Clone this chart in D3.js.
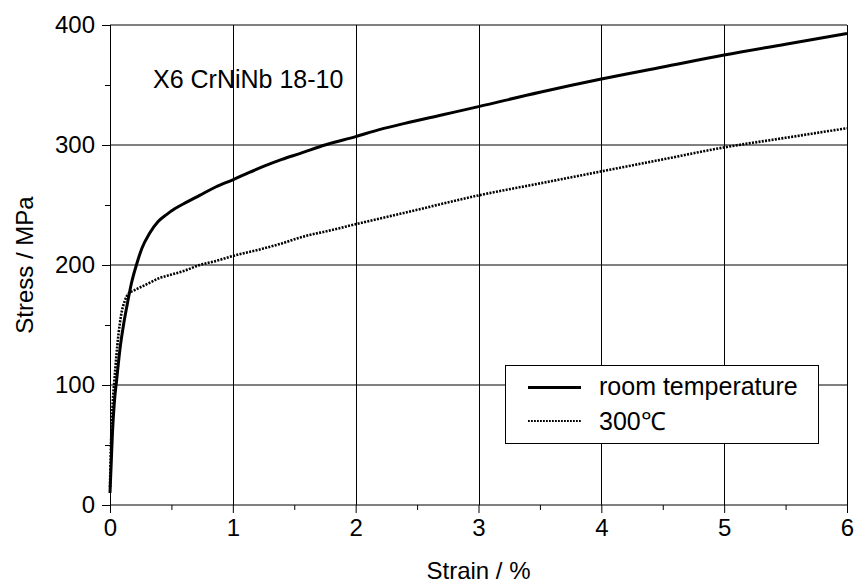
<!DOCTYPE html>
<html>
<head>
<meta charset="utf-8">
<script src="https://cdn.jsdelivr.net/npm/d3@7"></script>
<style>
  html, body { margin: 0; padding: 0; background: #fff; }
  svg { display: block; font-family: "Liberation Sans", Arial, Helvetica, sans-serif; }
</style>
</head>
<body>
<svg id="chart" width="856" height="583"></svg>
<script>
// Tensile test: X6 CrNiNb 18-10, stress vs strain
const roomStrain = [0.0, 0.01, 0.02, 0.035, 0.055, 0.08, 0.11, 0.14, 0.175, 0.215, 0.26, 0.32, 0.39, 0.46, 0.53, 0.6, 0.73, 0.86, 1.0, 1.13, 1.27, 1.4, 1.55, 1.75, 2.0, 2.2, 2.4, 2.7, 3.0, 3.5, 4.0, 4.5, 5.0, 5.5, 6.0];
const roomStress = [10, 35, 60, 85, 105, 129, 150, 167, 185, 200, 214, 226, 236, 242, 247, 251, 258, 265, 271, 277, 283, 288, 293, 300, 307, 313, 318, 325, 332, 344, 355, 365, 375, 384, 393];

const hotStrain = [0.0, 0.005, 0.015, 0.025, 0.035, 0.05, 0.07, 0.09, 0.12, 0.15, 0.2, 0.3, 0.4, 0.5, 0.6, 0.73, 0.85, 1.0, 1.22, 1.4, 1.55, 1.8, 2.0, 2.5, 3.0, 3.5, 4.0, 4.5, 5.0, 5.5, 6.0];
const hotStress = [15, 40, 70, 90, 103, 122, 143, 158, 170, 176, 179, 184, 189, 192, 195, 200, 203, 207.5, 213, 218, 223, 229, 234, 246, 258, 268, 278, 288, 298, 306, 314];

const xTicks = [0, 1, 2, 3, 4, 5, 6];
const yTicks = [0, 100, 200, 300, 400];
const xMinor = [0.5, 1.5, 2.5, 3.5, 4.5, 5.5];
const yMinor = [50, 150, 250, 350];

const seriesNames = ["room temperature", "300\u2103"];
const materialLabel = "X6 CrNiNb 18-10";

const W = 856, H = 583;
const margin = { left: 110, right: 9, top: 25, bottom: 78 };

const svg = d3.select("#chart");
const x = d3.scaleLinear().domain([0, 6]).range([margin.left, W - margin.right]);
const y = d3.scaleLinear().domain([0, 400]).range([H - margin.bottom, margin.top]);

const FONT = 24;

// grid: horizontal lines
svg.append("g").selectAll("line").data(yTicks).join("line")
  .attr("x1", x(0)).attr("x2", x(6))
  .attr("y1", d => y(d)).attr("y2", d => y(d))
  .attr("stroke", "#000").attr("stroke-width", 1);

// grid: vertical lines
svg.append("g").selectAll("line").data(xTicks).join("line")
  .attr("x1", d => Math.round(x(d)) + 0.5).attr("x2", d => Math.round(x(d)) + 0.5)
  .attr("y1", y(0)).attr("y2", y(400))
  .attr("stroke", "#000").attr("stroke-width", 1);

// axes with outward ticks
const xAxis = svg.append("g").attr("transform", `translate(0,${y(0)})`)
  .call(d3.axisBottom(x).tickValues(xTicks).tickSize(8).tickPadding(6).tickFormat(d3.format("d")));
const xAxisMinor = svg.append("g").attr("transform", `translate(0,${y(0)})`)
  .call(d3.axisBottom(x).tickValues(xMinor).tickSize(5).tickFormat(""));
const yAxis = svg.append("g").attr("transform", `translate(${x(0)},0)`)
  .call(d3.axisLeft(y).tickValues(yTicks).tickSize(8).tickPadding(7).tickFormat(d3.format("d")));
const yAxisMinor = svg.append("g").attr("transform", `translate(${x(0)},0)`)
  .call(d3.axisLeft(y).tickValues(yMinor).tickSize(5).tickFormat(""));

[xAxis, xAxisMinor, yAxis, yAxisMinor].forEach(g => {
  g.select(".domain").remove();
  g.selectAll(".tick line").attr("stroke", "#000").attr("stroke-width", 1);
  g.selectAll("text").attr("font-size", FONT).attr("fill", "#000")
    .attr("font-family", "'Liberation Sans', Arial, sans-serif");
});

// curves
const line = d3.line().x(d => x(d[0])).y(d => y(d[1])).curve(d3.curveMonotoneX);
const room = roomStrain.map((s, i) => [s, roomStress[i]]);
const hot = hotStrain.map((s, i) => [s, hotStress[i]]);

svg.append("path").datum(hot).attr("d", line)
  .attr("fill", "none").attr("stroke", "#000").attr("stroke-width", 2.6)
  .attr("stroke-dasharray", "2,1.3");
svg.append("path").datum(room).attr("d", line)
  .attr("fill", "none").attr("stroke", "#000").attr("stroke-width", 3)
  .attr("stroke-linejoin", "round");

// material label
svg.append("text").attr("x", 153).attr("y", 88)
  .attr("font-size", 25).attr("fill", "#000").text(materialLabel);

// axis titles
svg.append("text").attr("x", (x(0) + x(6)) / 2).attr("y", 579)
  .attr("text-anchor", "middle").attr("font-size", FONT).text("Strain / %");
svg.append("text")
  .attr("transform", `translate(33,${(y(0) + y(400)) / 2}) rotate(-90)`)
  .attr("text-anchor", "middle").attr("font-size", FONT).text("Stress / MPa");

// legend
const lg = svg.append("g");
lg.append("rect").attr("x", 505.5).attr("y", 365.5).attr("width", 313).attr("height", 78)
  .attr("fill", "#fff").attr("stroke", "#000").attr("stroke-width", 1);
lg.append("line").attr("x1", 528).attr("x2", 581).attr("y1", 387.5).attr("y2", 387.5)
  .attr("stroke", "#000").attr("stroke-width", 3);
lg.append("line").attr("x1", 528).attr("x2", 581).attr("y1", 421).attr("y2", 421)
  .attr("stroke", "#000").attr("stroke-width", 2.2).attr("stroke-dasharray", "1.8,1.2");
lg.append("text").attr("x", 599).attr("y", 395).attr("font-size", 25).text(seriesNames[0]);
lg.append("text").attr("x", 599).attr("y", 430).attr("font-size", 25).text(seriesNames[1]);
</script>
</body>
</html>
